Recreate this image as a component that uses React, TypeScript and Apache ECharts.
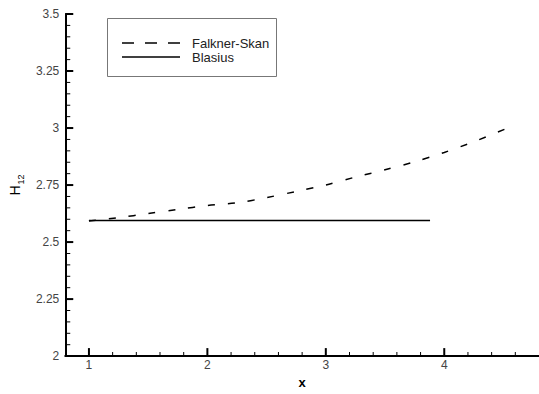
import React, { useEffect, useRef } from "react";
import * as echarts from "echarts";

const fsX = [1.0, 1.25, 1.5, 1.75, 2.0, 2.25, 2.5, 2.75, 3.0, 3.25, 3.5, 3.75, 4.0, 4.25, 4.55];
const fsY = [2.592, 2.607, 2.625, 2.643, 2.66, 2.672, 2.695, 2.722, 2.75, 2.785, 2.817, 2.852, 2.893, 2.94, 3.003];
const blX = [1.0, 3.88];
const blY = [2.595, 2.595];
const xMajor = [1, 2, 3, 4];
const xMinor = [1.2, 1.4, 1.6, 1.8, 2.2, 2.4, 2.6, 2.8, 3.2, 3.4, 3.6, 3.8, 4.2, 4.4, 4.6];
const yMajor = [2.25, 2.5, 2.75, 3, 3.25, 3.5];
const yMinor = [
  2.05, 2.1, 2.15, 2.2, 2.3, 2.35, 2.4, 2.45, 2.55, 2.6, 2.65, 2.7,
  2.8, 2.85, 2.9, 2.95, 3.05, 3.1, 3.15, 3.2, 3.3, 3.35, 3.4, 3.45,
];
const seriesNames = ["Falkner-Skan", "Blasius"];

const FONT = "Liberation Sans";
const X_MIN = 0.8;
const Y_MIN = 2;

const tickSeries = (data: number[][], size: number[], offset: number[]) => ({
  type: "scatter",
  silent: true,
  clip: false,
  symbol: "rect",
  symbolSize: size,
  symbolOffset: offset,
  itemStyle: { color: "#000", opacity: 1 },
  z: 5,
  data,
});

export default function App() {
  const ref = useRef<HTMLDivElement>(null);
  useEffect(() => {
    if (!ref.current) return;
    const chart = echarts.init(ref.current, undefined, { renderer: "svg" });
    chart.setOption({
      animation: false,
      backgroundColor: "#fff",
      grid: { left: 65, top: 14, width: 476, height: 353 },
      xAxis: {
        type: "value",
        min: X_MIN,
        max: 4.8,
        position: "bottom",
        axisLine: { show: true, onZero: false, lineStyle: { color: "#000", width: 2 } },
        splitLine: { show: false },
        axisTick: { show: false },
        axisLabel: { show: true, customValues: xMajor, margin: 3, fontFamily: FONT, fontSize: 12, color: "#444" },
        name: "x",
        nameLocation: "middle",
        nameGap: 12,
        nameTextStyle: { fontFamily: FONT, fontSize: 13, fontWeight: "bold", color: "#000" },
      },
      yAxis: {
        type: "value",
        min: Y_MIN,
        max: 3.5,
        interval: 0.25,
        axisLine: { show: true, onZero: false, lineStyle: { color: "#000", width: 2 } },
        splitLine: { show: false },
        axisTick: { show: false },
        axisLabel: { margin: 6, fontFamily: FONT, fontSize: 12, color: "#444" },
        name: "{h|H}{s|12}",
        nameLocation: "middle",
        nameRotate: 90,
        nameGap: 31,
        nameTextStyle: {
          fontFamily: FONT,
          color: "#000",
          rich: {
            h: { fontFamily: FONT, fontSize: 14, color: "#000", lineHeight: 20, verticalAlign: "middle" },
            s: { fontFamily: FONT, fontSize: 9, color: "#000", lineHeight: 20, verticalAlign: "bottom", padding: [0, 0, 0, 1] },
          },
        },
      },
      graphic: [
        {
          type: "rect",
          shape: { x: 107.5, y: 18.5, width: 169, height: 58 },
          style: { fill: "#fff", stroke: "#777", lineWidth: 1 },
          z: 10,
        },
        {
          type: "line",
          shape: { x1: 122, y1: 43, x2: 180, y2: 43 },
          style: { stroke: "#000", lineWidth: 1.5, lineDash: [12, 11] },
          z: 11,
        },
        {
          type: "line",
          shape: { x1: 122, y1: 57, x2: 180, y2: 57 },
          style: { stroke: "#000", lineWidth: 1.5 },
          z: 11,
        },
        {
          type: "text",
          x: 192,
          y: 43,
          style: { text: seriesNames[0], font: `13px "${FONT}"`, fill: "#222", verticalAlign: "middle", align: "left" },
          z: 11,
        },
        {
          type: "text",
          x: 192,
          y: 57,
          style: { text: seriesNames[1], font: `13px "${FONT}"`, fill: "#222", verticalAlign: "middle", align: "left" },
          z: 11,
        },
      ],
      series: [
        {
          name: seriesNames[0],
          type: "line",
          symbol: "none",
          smooth: 0.3,
          data: fsX.map((x, i) => [x, fsY[i]]),
          lineStyle: { color: "#000", width: 1.5, type: [7, 13] },
          itemStyle: { color: "#000" },
        },
        {
          name: seriesNames[1],
          type: "line",
          symbol: "none",
          data: blX.map((x, i) => [x, blY[i]]),
          lineStyle: { color: "#000", width: 1.5, type: "solid" },
          itemStyle: { color: "#000" },
        },
        tickSeries(xMajor.map((v) => [v, Y_MIN]), [2, 8], [0, -4]),
        tickSeries(xMinor.map((v) => [v, Y_MIN]), [1, 4], [0, -2]),
        tickSeries(yMajor.map((v) => [X_MIN, v]), [8, 2], [4, 0]),
        tickSeries(yMinor.map((v) => [X_MIN, v]), [5, 1], [2.5, 0]),
      ],
    });
    return () => chart.dispose();
  }, []);
  return (
    <div
      ref={ref}
      style={{ position: "fixed", left: 0, top: 0, width: 539, height: 394, background: "#fff" }}
    />
  );
}
